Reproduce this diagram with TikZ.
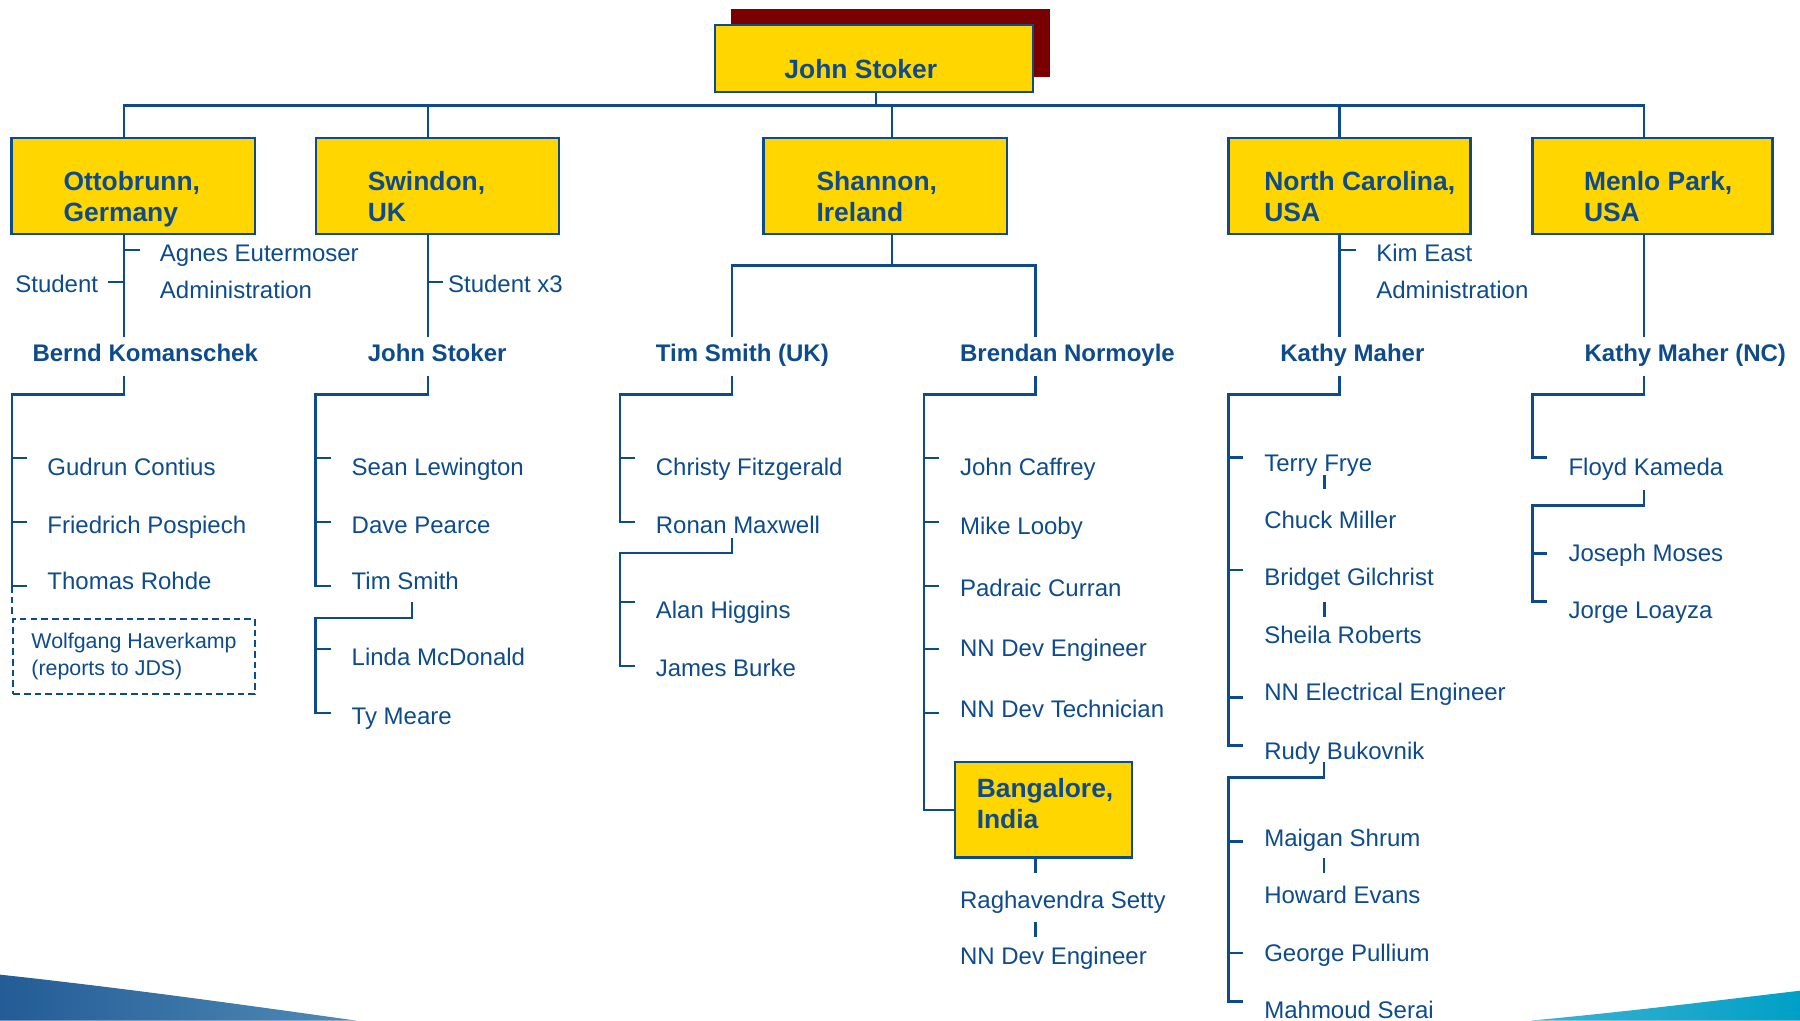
\documentclass[tikz,border=0pt]{standalone}
\usepackage{fontspec}
\setmainfont{Liberation Sans}
\definecolor{orgblue}{HTML}{0D4B8C}
\definecolor{orggold}{HTML}{FFD600}
\definecolor{orgred}{HTML}{7A0000}
\definecolor{wedgedark}{HTML}{235C96}
\definecolor{wedgelight}{HTML}{4F8BB6}
\definecolor{wedgeteal}{HTML}{00A0C6}
\definecolor{wedgepale}{HTML}{3DB2D3}

\begin{document}
\begin{tikzpicture}[x=0.02cm, y=-0.02cm,
    link/.style={draw=orgblue, line width=1.2pt},
    site/.style={draw=orgblue, line width=1.2pt, fill=orggold, inner sep=0, minimum height=1.68cm},
    sitetext/.style={text=orgblue, font=\fontsize{13.1}{15.4}\selectfont\bfseries, align=left, anchor=base west, inner sep=0},
    head/.style={text=orgblue, font=\fontsize{11.9}{14}\selectfont\bfseries, anchor=base west, inner xsep=0, inner ysep=0.45em, text height=0.75em, text depth=0.25em},
    item/.style={text=orgblue, font=\fontsize{11.9}{14}\selectfont, anchor=base west, inner sep=0},
    dashbox/.style={draw=orgblue, line width=1.2pt, dash pattern=on 3.3pt off 2pt, text=orgblue, font=\fontsize{10.6}{13.6}\selectfont, align=left, inner sep=0, minimum width=4.21cm, minimum height=1.31cm}]
    \useasboundingbox (0,0) rectangle (1568,889);

    \shade[left color=wedgedark, right color=wedgelight] (0,849) .. controls (110,861) and (210,875) .. (310,889) -- (0,889) -- cycle;
    \shade[left color=wedgepale, right color=wedgeteal] (1334,889) .. controls (1420,881) and (1500,871) .. (1568,863) -- (1568,889) -- cycle;

    \node[fill=orgred, inner sep=0, minimum width=5.56cm, minimum height=1.18cm] (shadow) at (776,37.5) {};
    \node[site, minimum width=5.54cm, minimum height=1.16cm] (top) at (761.5,51) {};
    \node[sitetext] (topt) at (683,68.2) {John Stoker};

    \node[site, minimum width=4.24cm] (ott) at (116,162) {};
    \node[site, minimum width=4.24cm] (swi) at (381,162) {};
    \node[site, minimum width=4.24cm] (sha) at (771,162) {};
    \node[site, minimum width=4.22cm] (nca) at (1175.5,162) {};
    \node[site, minimum width=4.18cm] (men) at (1439.5,162) {};
    \node[site, minimum width=3.08cm, minimum height=1.66cm] (ban) at (909,705.5) {};
    \node[sitetext] (ottt) at (55,193) {Ottobrunn,\\Germany};
    \node[sitetext] (swit) at (320,193) {Swindon,\\UK};
    \node[sitetext] (shat) at (711,193) {Shannon,\\Ireland};
    \node[sitetext] (ncat) at (1101,193) {North Carolina,\\USA};
    \node[sitetext] (ment) at (1379.5,193) {Menlo Park,\\USA};
    \node[sitetext] (bant) at (850.5,721.5) {Bangalore,\\India};

    \coordinate (c0) at (763,92);
    \coordinate (c1) at (108,92);
    \coordinate (c2) at (373,92);
    \coordinate (c3) at (777,92);
    \coordinate (c4) at (1167,92);
    \coordinate (c5) at (1432,92);
    \draw[link] (c0 |- top.south) -- (c0);
    \draw[link] (c1 |- ott.north) -- (c1) -- (c5) -- (c5 |- men.north);
    \draw[link] (c2) -- (c2 |- swi.north);
    \draw[link] (c3) -- (c3 |- sha.north);
    \draw[link] (c4) -- (c4 |- nca.north);

    \node[head] (bernd) at (28,315) {Bernd Komanschek};
    \node[head] (stoker) at (320,315) {John Stoker};
    \node[head] (timuk) at (571,315) {Tim Smith (UK)};
    \node[head] (brendan) at (836,315) {Brendan Normoyle};
    \node[head] (kathy) at (1115,315) {Kathy Maher};
    \node[head] (kathync) at (1380,315) {Kathy Maher (NC)};

    \node[item] (agnes) at (139,227.4) {Agnes Eutermoser};
    \node[item] (admin) at (139,259.6) {Administration};
    \node[item] (stud) at (13,255.2) {Student};
    \node[item] (studx) at (390,255.2) {Student x3};
    \node[item] (kim) at (1198.6,227.4) {Kim East};
    \node[item] (adminnc) at (1198.6,259.6) {Administration};

    \draw[link] (c1 |- ott.south) -- (c1 |- bernd.north);
    \draw[link] (108,217.8) -- (121.7,217.8);
    \draw[link] (94,245.4) -- (108,245.4);
    \draw[link] (c2 |- swi.south) -- (c2 |- stoker.north);
    \draw[link] (373,245.4) -- (385.7,245.4);
    \draw[link] (c4 |- nca.south) -- (c4 |- kathy.north);
    \draw[link] (1167,217.8) -- (1181.3,217.8);
    \draw[link] (c5 |- men.south) -- (c5 |- kathync.north);

    \coordinate (sh) at (777,231.4);
    \coordinate (k1) at (108,343.5);
    \coordinate (k2) at (373,343.5);
    \coordinate (k3) at (637.7,343.5);
    \coordinate (k4) at (902,343.5);
    \coordinate (k5) at (1167,343.5);
    \coordinate (k6) at (1432,343.5);
    \draw[link] (c3 |- sha.south) -- (sh);
    \draw[link] (k3 |- timuk.north) |- (sh) -| (k4 |- brendan.north);

    \node[item] (gudrun) at (41,413.8) {Gudrun Contius};
    \node[item] (friedrich) at (41,464.3) {Friedrich Pospiech};
    \node[item] (thomas) at (41,513.1) {Thomas Rohde};
    \node[dashbox, anchor=north west] (wolf) at (10.5,538) {Wolfgang Haverkamp\\(reports to JDS)};
    \draw[link] (k1 |- bernd.south) -- (k1) -| (10.5,510.5) -- ++(13,0);
    \draw[link] (10.5,399) -- ++(13,0);
    \draw[link] (10.5,454.7) -- ++(13,0);
    \draw[link, dash pattern=on 3.3pt off 2pt] (10.5,510.5) -- (wolf.north west);

    \node[item] (sean) at (306,413.8) {Sean Lewington};
    \node[item] (dave) at (306,464.3) {Dave Pearce};
    \node[item] (timsmith) at (306,513.1) {Tim Smith};
    \node[item] (linda) at (306,580) {Linda McDonald};
    \node[item] (ty) at (306,631) {Ty Meare};
    \draw[link] (k2 |- stoker.south) -- (k2) -| (275,510.5) -- ++(13,0);
    \draw[link] (275,399) -- ++(13,0);
    \draw[link] (275,454.7) -- ++(13,0);
    \draw[link] (359,524.4) |- (275,538.3) -- (275,621) -- ++(13,0);
    \draw[link] (275,565.3) -- ++(13,0);

    \node[item] (christy) at (571,413.8) {Christy Fitzgerald};
    \node[item] (ronan) at (571,464.3) {Ronan Maxwell};
    \node[item] (alan) at (571,538.6) {Alan Higgins};
    \node[item] (james) at (571,588.9) {James Burke};
    \draw[link] (k3 |- timuk.south) -- (k3) -| (540,454.7) -- ++(13,0);
    \draw[link] (540,399) -- ++(13,0);
    \draw[link] (637.7,468.6) |- (540,481.7) -- (540,580) -- ++(13,0);
    \draw[link] (540,524.4) -- ++(13,0);

    \node[item] (caffrey) at (836,413.8) {John Caffrey};
    \node[item] (looby) at (836,466) {Mike Looby};
    \node[item] (curran) at (836,520) {Padraic Curran};
    \node[item] (deveng) at (836,572) {NN Dev Engineer};
    \node[item] (devtech) at (836,625) {NN Dev Technician};
    \node[item] (setty) at (836,791) {Raghavendra Setty};
    \node[item] (devengb) at (836,840.6) {NN Dev Engineer};
    \draw[link] (k4 |- brendan.south) -- (k4) -| (805,705.5) -- (ban.west);
    \draw[link] (805,399) -- ++(13,0);
    \draw[link] (805,454.7) -- ++(13,0);
    \draw[link] (805,510.5) -- ++(13,0);
    \draw[link] (805,565.3) -- ++(13,0);
    \draw[link] (805,621) -- ++(13,0);
    \draw[link] (ban.south -| k4) -- (902,760.8);
    \draw[link] (902,803) -- (902,816.5);

    \node[item] (terry) at (1101,411) {Terry Frye};
    \node[item] (chuck) at (1101,460) {Chuck Miller};
    \node[item] (bridget) at (1101,509.6) {Bridget Gilchrist};
    \node[item] (sheila) at (1101,560.4) {Sheila Roberts};
    \node[item] (eleceng) at (1101,609.8) {NN Electrical Engineer};
    \node[item] (rudy) at (1101,661.4) {Rudy Bukovnik};
    \node[item] (maigan) at (1101,737) {Maigan Shrum};
    \node[item] (howard) at (1101,787) {Howard Evans};
    \node[item] (george) at (1101,837.7) {George Pullium};
    \node[item] (mahmoud) at (1101,886.8) {Mahmoud Serai};
    \draw[link] (k5 |- kathy.south) -- (k5) -| (1070,649.5) -- ++(13,0);
    \draw[link] (1070,398.7) -- ++(13,0);
    \draw[link] (1070,496.5) -- ++(13,0);
    \draw[link] (1070,607.7) -- ++(13,0);
    \draw[link] (1153.6,413.8) -- (1153.6,426.2);
    \draw[link] (1153.6,524) -- (1153.6,537.7);
    \draw[link] (1153.5,663.5) |- (1070,677.4) -- (1070,872.5) -- ++(13,0);
    \draw[link] (1070,733.2) -- ++(13,0);
    \draw[link] (1070,830.4) -- ++(13,0);
    \draw[link] (1153.5,747.7) -- (1153.5,760.8);

    \node[item] (floyd) at (1366,413.8) {Floyd Kameda};
    \node[item] (joseph) at (1366,489.3) {Joseph Moses};
    \node[item] (jorge) at (1366,538.6) {Jorge Loayza};
    \draw[link] (k6 |- kathync.south) -- (k6) -| (1335,398.7) -- ++(13,0);
    \draw[link] (1432,426.8) |- (1335,440.5) -- (1335,523.8) -- ++(13,0);
    \draw[link] (1335,482) -- ++(13,0);
\end{tikzpicture}
\end{document}
